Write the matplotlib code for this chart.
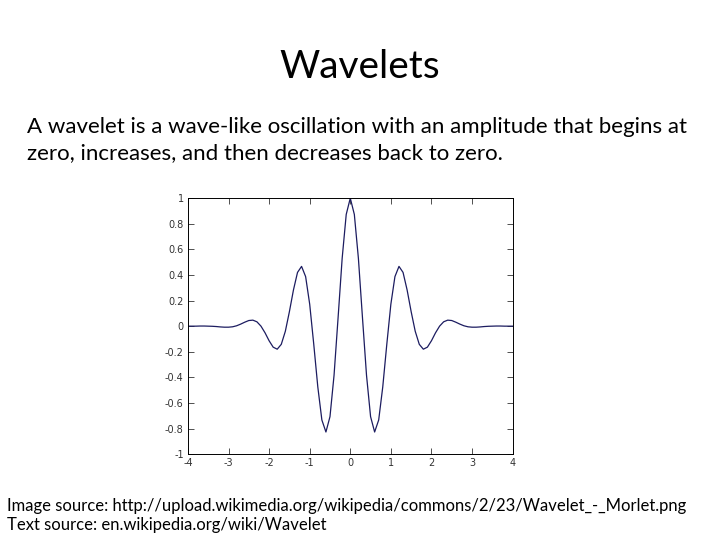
import numpy as np
import matplotlib
matplotlib.use("Agg")
import matplotlib.pyplot as plt

# Wavelet values, x from -4 to 4 in steps of 0.1
x_vals = np.round(np.arange(-40, 41) / 10, 1)
y_vals = [
    0.000, 0.000, 0.000, 0.001, 0.001, 0.000, -0.001, -0.003, -0.006, -0.008,
    -0.008, -0.005, 0.003, 0.016, 0.031, 0.044, 0.047, 0.034, 0.000, -0.052,
    -0.114, -0.164, -0.180, -0.142, -0.040, 0.113, 0.283, 0.420, 0.467, 0.387,
    0.172, -0.141, -0.475, -0.733, -0.827, -0.707, -0.384, 0.068, 0.530, 0.873,
    1.000,
    0.873, 0.530, 0.068, -0.384, -0.707, -0.827, -0.733, -0.475, -0.141, 0.172,
    0.387, 0.467, 0.420, 0.283, 0.113, -0.040, -0.142, -0.180, -0.164, -0.114,
    -0.052, 0.000, 0.034, 0.047, 0.044, 0.031, 0.016, 0.003, -0.005, -0.008,
    -0.008, -0.006, -0.003, -0.001, 0.000, 0.001, 0.001, 0.000, 0.000, 0.000,
]
x_ticks = [-4, -3, -2, -1, 0, 1, 2, 3, 4]
x_tick_labels = ["-4", "-3", "-2", "-1", "0", "1", "2", "3", "4"]
y_ticks = [-1, -0.8, -0.6, -0.4, -0.2, 0, 0.2, 0.4, 0.6, 0.8, 1]
y_tick_labels = ["-1", "-0.8", "-0.6", "-0.4", "-0.2", "0", "0.2", "0.4", "0.6", "0.8", "1"]

title = "Wavelets"
body = ("A wavelet is a wave-like oscillation with an amplitude that begins at\n"
        "zero, increases, and then decreases back to zero.")
sources = ("Image source: http://upload.wikimedia.org/wikipedia/commons/2/23/Wavelet_-_Morlet.png\n"
           "Text source: en.wikipedia.org/wiki/Wavelet")

fig = plt.figure(figsize=(7.2, 5.4), dpi=100)
fig.patch.set_facecolor("white")

# slide text
fig.text(0.5, 0.875, title, ha="center", va="center", fontsize=28, family="Lato")
fig.text(0.038, 0.741, body, ha="left", va="center", fontsize=16, family="Lato",
         linespacing=1.35)
fig.text(0.01, 0.045, sources, ha="left", va="center", fontsize=12, family="Lato",
         linespacing=1.2)

# plot
ax = fig.add_axes([0.261, 0.159, 0.451, 0.474])
ax.plot(x_vals, y_vals, color="#1c1c60", linewidth=0.9)
ax.set_xlim(-4, 4)
ax.set_ylim(-1, 1)
ax.set_xticks(x_ticks)
ax.set_xticklabels(x_tick_labels)
ax.set_yticks(y_ticks)
ax.set_yticklabels(y_tick_labels)
ax.tick_params(direction="in", length=4, width=0.6, labelsize=7, colors="#333333",
               top=True, right=True, pad=3)
for s in ax.spines.values():
    s.set_linewidth(0.7)

plt.savefig("out.png", dpi=100)
